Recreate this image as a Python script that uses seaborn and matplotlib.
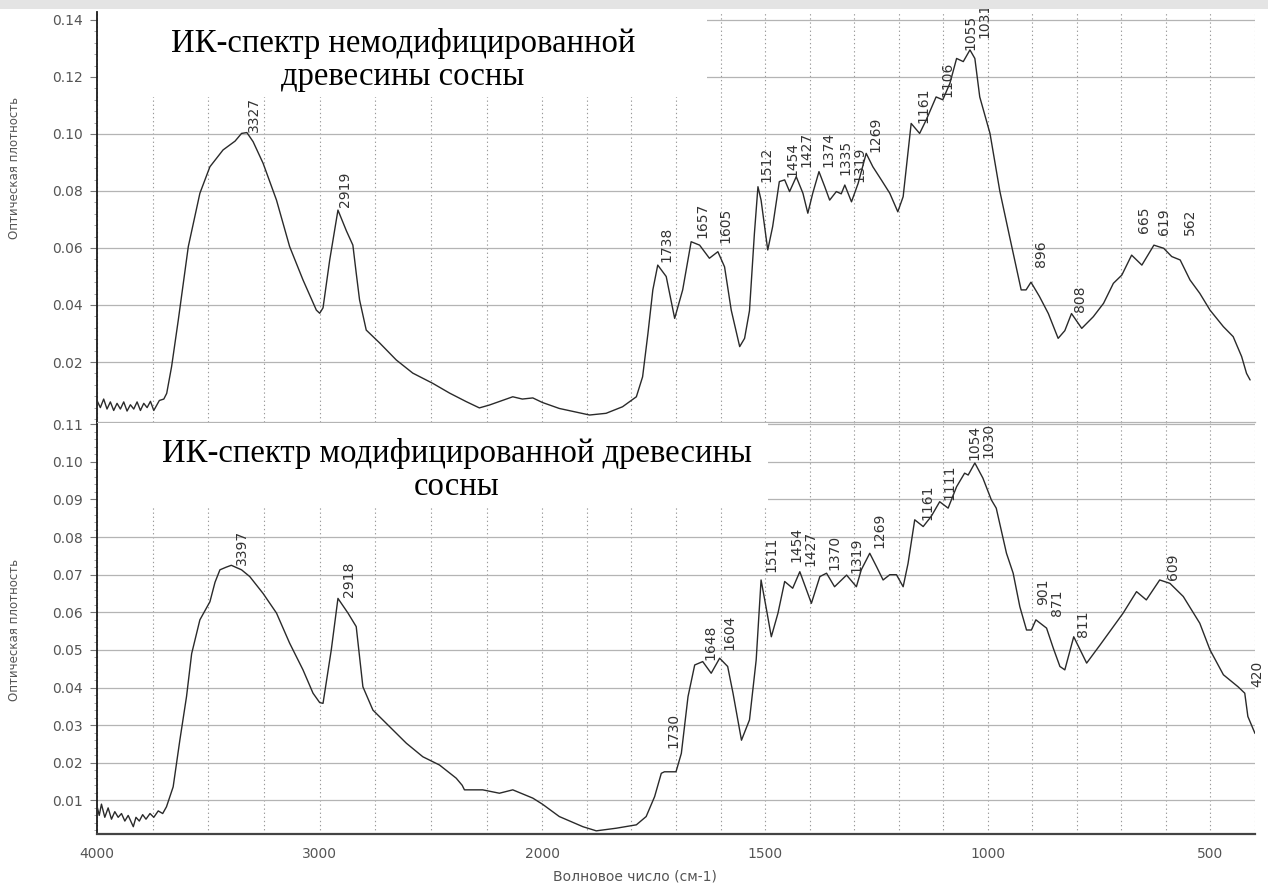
import numpy as np
import pandas as pd
import seaborn as sns
import matplotlib
matplotlib.use("Agg")
import matplotlib.pyplot as plt
from matplotlib.patches import Rectangle
from matplotlib.ticker import FixedLocator, MultipleLocator, FormatStrFormatter, NullFormatter

# ---------------- data ----------------
top_w = [4000, 3985, 3970, 3955, 3940, 3925, 3910, 3895, 3880, 3865, 3850, 3835, 3820, 3805,
         3790, 3775, 3760, 3745, 3720, 3700, 3687, 3665, 3635, 3590, 3538, 3493, 3434, 3380,
         3351, 3327, 3299, 3254, 3194, 3135, 3075, 3015, 3000, 2985, 2955, 2918, 2880, 2851,
         2836, 2821, 2791, 2731, 2656, 2582, 2492, 2417, 2342, 2283, 2238, 2180, 2133, 2090,
         2043, 2000, 1962, 1894, 1857, 1820, 1789, 1775, 1763, 1752, 1741, 1722, 1703, 1685,
         1666, 1647, 1625, 1606, 1591, 1576, 1557, 1546, 1535, 1524, 1516, 1509, 1494, 1483,
         1468, 1456, 1445, 1430, 1415, 1404, 1393, 1379, 1366, 1355, 1340, 1329, 1321, 1306,
         1291, 1273, 1258, 1239, 1220, 1202, 1190, 1172, 1153, 1138, 1116, 1101, 1085, 1070,
         1055, 1040, 1029, 1018, 995, 973, 951, 925, 914, 903, 884, 864, 842, 827, 812, 789,
         763, 740, 718, 699, 677, 654, 627, 605, 587, 568, 546, 524, 501, 471, 449, 430, 419, 411]
top_a = [0.0065, 0.0040, 0.0070, 0.0035, 0.0060, 0.0030, 0.0055, 0.0035, 0.0060, 0.0028, 0.0050,
         0.0035, 0.0060, 0.0030, 0.0055, 0.0040, 0.0062, 0.0030, 0.0065, 0.0070, 0.0090, 0.0184,
         0.0347, 0.0605, 0.0792, 0.0885, 0.0944, 0.0975, 0.1002, 0.1005, 0.0973, 0.0897, 0.0768,
         0.0605, 0.0488, 0.0382, 0.0371, 0.0390, 0.0558, 0.0733, 0.0660, 0.0610, 0.0512, 0.0418,
         0.0312, 0.0267, 0.0207, 0.0161, 0.0125, 0.0091, 0.0061, 0.0039, 0.0049, 0.0065, 0.0078,
         0.0070, 0.0074, 0.0058, 0.0037, 0.0014, 0.0020, 0.0043, 0.0078, 0.0148, 0.0300, 0.0453,
         0.0540, 0.0500, 0.0353, 0.0453, 0.0622, 0.0610, 0.0564, 0.0587, 0.0534, 0.0382, 0.0254,
         0.0283, 0.0380, 0.0650, 0.0815, 0.0768, 0.0593, 0.0675, 0.0833, 0.0839, 0.0798, 0.0850,
         0.0792, 0.0722, 0.0792, 0.0868, 0.0815, 0.0768, 0.0798, 0.0790, 0.0821, 0.0762, 0.0827,
         0.0932, 0.0885, 0.0839, 0.0792, 0.0727, 0.0780, 0.1037, 0.1002, 0.1050, 0.1130, 0.1120,
         0.1178, 0.1265, 0.1254, 0.1295, 0.1265, 0.1130, 0.1002, 0.0800, 0.0640, 0.0453, 0.0453,
         0.0480, 0.0430, 0.0370, 0.0283, 0.0310, 0.0370, 0.0318, 0.0359, 0.0406, 0.0476, 0.0505,
         0.0575, 0.0540, 0.0610, 0.0599, 0.0570, 0.0558, 0.0488, 0.0441, 0.0382, 0.0324, 0.0289,
         0.0219, 0.0160, 0.0137]

bot_w = [4000, 3990, 3980, 3965, 3950, 3935, 3920, 3905, 3890, 3875, 3860, 3845, 3837, 3825,
         3810, 3795, 3780, 3762, 3745, 3725, 3705, 3688, 3658, 3628, 3598, 3575, 3538, 3493,
         3470, 3448, 3420, 3397, 3370, 3351, 3314, 3254, 3194, 3135, 3075, 3030, 3000, 2985,
         2948, 2918, 2873, 2836, 2806, 2761, 2686, 2611, 2537, 2462, 2387, 2360, 2350, 2268,
         2193, 2133, 2043, 2000, 1962, 1909, 1879, 1834, 1789, 1767, 1748, 1733, 1726, 1700,
         1688, 1673, 1658, 1640, 1621, 1602, 1584, 1572, 1553, 1535, 1520, 1509, 1498, 1486,
         1471, 1456, 1438, 1422, 1396, 1377, 1362, 1344, 1317, 1295, 1284, 1265, 1250, 1235,
         1220, 1205, 1190, 1179, 1164, 1145, 1127, 1108, 1089, 1070, 1052, 1044, 1029, 1011,
         992, 981, 958, 943, 928, 913, 902, 892, 868, 853, 838, 827, 807, 778, 748, 718, 696,
         666, 644, 614, 591, 561, 524, 501, 471, 438, 423, 416, 400]
bot_a = [0.0085, 0.0060, 0.0090, 0.0055, 0.0080, 0.0050, 0.0070, 0.0055, 0.0065, 0.0045, 0.0060,
         0.0040, 0.0030, 0.0055, 0.0045, 0.0062, 0.0050, 0.0065, 0.0055, 0.0072, 0.0065, 0.0083,
         0.0136, 0.0260, 0.0376, 0.0490, 0.0580, 0.0628, 0.0680, 0.0713, 0.0720, 0.0725, 0.0718,
         0.0713, 0.0695, 0.0650, 0.0598, 0.0518, 0.0447, 0.0385, 0.0360, 0.0358, 0.0500, 0.0637,
         0.0598, 0.0562, 0.0402, 0.0340, 0.0296, 0.0252, 0.0216, 0.0194, 0.0159, 0.0140, 0.0128,
         0.0128, 0.0119, 0.0128, 0.0106, 0.0090, 0.0057, 0.0030, 0.0019, 0.0026, 0.0035, 0.0057,
         0.0110, 0.0172, 0.0176, 0.0176, 0.0225, 0.0376, 0.0460, 0.0469, 0.0438, 0.0478, 0.0456,
         0.0385, 0.0260, 0.0314, 0.0473, 0.0686, 0.0615, 0.0535, 0.0598, 0.0682, 0.0664, 0.0708,
         0.0624, 0.0695, 0.0704, 0.0668, 0.0699, 0.0668, 0.0713, 0.0757, 0.0722, 0.0686, 0.0700,
         0.0700, 0.0668, 0.0730, 0.0846, 0.0828, 0.0855, 0.0894, 0.0877, 0.0934, 0.0970, 0.0965,
         0.0997, 0.0957, 0.0899, 0.0877, 0.0757, 0.0704, 0.0615, 0.0553, 0.0553, 0.0580, 0.0558,
         0.0505, 0.0456, 0.0447, 0.0535, 0.0465, 0.0513, 0.0562, 0.0598, 0.0655, 0.0633, 0.0686,
         0.0677, 0.0642, 0.0571, 0.0500, 0.0434, 0.0402, 0.0385, 0.0323, 0.0278]

top_peaks = [3327, 2919, 1738, 1657, 1605, 1512, 1454, 1427, 1374, 1335, 1319, 1269,
             1161, 1106, 1055, 1031, 896, 808, 665, 619, 562]
top_peak_y = [0.1008, 0.0745, 0.0552, 0.0634, 0.0617, 0.0833, 0.0850, 0.0885, 0.0885, 0.0856,
              0.0833, 0.0938, 0.1037, 0.1130, 0.1295, 0.1336, 0.0534, 0.0377, 0.0652, 0.0646, 0.0646]
bot_peaks = [3397, 2918, 1730, 1648, 1604, 1511, 1454, 1427, 1370, 1319, 1269, 1161, 1111,
             1054, 1030, 901, 871, 811, 609, 420]
bot_peak_y = [0.0726, 0.0642, 0.0239, 0.0473, 0.0500, 0.0708, 0.0735, 0.0722, 0.0713, 0.0704,
              0.0770, 0.0846, 0.0899, 0.1005, 0.1010, 0.0620, 0.0589, 0.0535, 0.0686, 0.0402]

top_yticks = [0.02, 0.04, 0.06, 0.08, 0.10, 0.12, 0.14]
bot_yticks = [0.01, 0.02, 0.03, 0.04, 0.05, 0.06, 0.07, 0.08, 0.09, 0.10, 0.11]
x_major = [4000, 3000, 2000, 1500, 1000, 500]
x_minor = [3750, 3500, 3250, 2750, 2500, 2250, 1900, 1800, 1700, 1600, 1400, 1300, 1200,
           1100, 900, 800, 700, 600, 400]

title_top = "ИК-спектр немодифицированной\nдревесины сосны"
title_bot = "ИК-спектр модифицированной древесины\nсосны"
ylabel = "Оптическая плотность"
xlabel = "Волновое число (см-1)"

# ---------------- style ----------------
sns.set_theme(style="white")
plt.rcParams["font.family"] = ["DejaVu Sans"]

W, H = 1268, 886
fig = plt.figure(figsize=(W / 100, H / 100), dpi=100)
fig.patch.set_facecolor("white")


def rect(x0, y0, x1, y1):
    return [x0 / W, 1 - y1 / H, (x1 - x0) / W, (y1 - y0) / H]


ax1 = fig.add_axes(rect(97, 12, 1255, 422))
ax2 = fig.add_axes(rect(97, 422, 1255, 834))


def fwd(w):
    w = np.asarray(w, dtype=float)
    return np.where(w >= 2000, w, 2 * w - 2000)


def inv(u):
    u = np.asarray(u, dtype=float)
    return np.where(u >= 2000, u, (u + 2000) / 2)


top_df = pd.DataFrame({"w": top_w, "A": top_a})
bot_df = pd.DataFrame({"w": bot_w, "A": bot_a})

for ax, df, ylim, yt, minor in [
    (ax1, top_df, (-0.00105, 0.1428), top_yticks, 0.004),
    (ax2, bot_df, (0.00106, 0.1106), bot_yticks, 0.002),
]:
    ax.set_xscale("function", functions=(fwd, inv))
    sns.lineplot(data=df, x="w", y="A", ax=ax, estimator=None, sort=False,
                 color="#2a2a2a", lw=1.0, zorder=3)
    ax.set_xlim(4000, 400)
    ax.set_ylim(*ylim)
    ax.xaxis.set_major_locator(FixedLocator(x_major))
    ax.xaxis.set_minor_locator(FixedLocator(x_minor))
    ax.yaxis.set_major_locator(FixedLocator(yt))
    ax.yaxis.set_minor_locator(MultipleLocator(minor))
    ax.yaxis.set_major_formatter(FormatStrFormatter("%.2f"))
    ax.set_axisbelow(True)
    ax.grid(axis="y", which="major", color="#b4b4b4", lw=0.9, ls="-")
    ax.grid(axis="x", which="both", color="#9a9a9a", lw=0.8, ls=(0, (1.2, 2.5)))
    ax.set_xlabel("")
    ax.set_ylabel("")
    ax.set_facecolor("none")
    for s in ["top", "right"]:
        ax.spines[s].set_visible(False)
    ax.spines["left"].set_color("#1a1a1a")
    ax.spines["left"].set_linewidth(1.3)
    ax.tick_params(axis="y", which="major", left=True, length=5, width=0.8, color="#777",
                   labelsize=10, labelcolor="#555", pad=5)
    ax.tick_params(axis="y", which="minor", left=True, length=2.5, width=0.6, color="#999")
    ax.tick_params(axis="x", which="both", length=0)

ax1.spines["bottom"].set_visible(False)
ax1.tick_params(axis="x", labelbottom=False)
ax2.spines["bottom"].set_color("#444")
ax2.spines["bottom"].set_linewidth(1.6)
ax2.spines["top"].set_visible(True)
ax2.spines["top"].set_color("#b4b4b4")
ax2.spines["top"].set_linewidth(0.9)
ax2.tick_params(axis="x", labelsize=10, labelcolor="#555", pad=9)
ax2.xaxis.set_minor_formatter(NullFormatter())


# peak labels: right of the peak, pushed apart when crowded
def place_labels(ax, peaks, ys, dx_px, min_gap):
    pts = ax.transData.transform(np.column_stack([peaks, ys]))
    xs = pts[:, 0] + dx_px
    order = np.argsort(xs)
    for k in range(1, len(order)):
        i, j = order[k], order[k - 1]
        if xs[i] - xs[j] < min_gap:
            xs[i] = xs[j] + min_gap
    data = ax.transData.inverted().transform(np.column_stack([xs, pts[:, 1]]))
    for p, (x, y) in zip(peaks, data):
        ax.text(x, y, str(p), rotation=90, ha="center", va="bottom", fontsize=10,
                color="#333", clip_on=False, zorder=5)


place_labels(ax1, top_peaks, top_peak_y, 7, 14)
place_labels(ax2, bot_peaks, bot_peak_y, 11, 14)

# white boxes under the titles
fig.add_artist(Rectangle((98 / W, 1 - 97 / H), (707 - 98) / W, (97 - 12) / H,
                         transform=fig.transFigure, facecolor="white", edgecolor="none", zorder=2.5))
fig.add_artist(Rectangle((98 / W, 1 - 508 / H), (768 - 98) / W, (508 - 423) / H,
                         transform=fig.transFigure, facecolor="white", edgecolor="none", zorder=2.5))
fig.text(403 / W, 1 - 60 / H, title_top, ha="center", va="center", fontsize=23.5,
         family="Liberation Serif", color="black", linespacing=1.12, zorder=6)
fig.text(457 / W, 1 - 470 / H, title_bot, ha="center", va="center", fontsize=23.5,
         family="Liberation Serif", color="black", linespacing=1.12, zorder=6)

# top grey band of the scan
fig.add_artist(Rectangle((0, 1 - 9 / H), 1, 9 / H, transform=fig.transFigure,
                         facecolor="#e4e4e4", edgecolor="none", zorder=7))

# axis labels
fig.text(15 / W, 1 - 168 / H, ylabel, rotation=90, ha="center", va="center",
         fontsize=8.5, color="#555")
fig.text(15 / W, 1 - 630 / H, ylabel, rotation=90, ha="center", va="center",
         fontsize=8.5, color="#555")
fig.text(635 / W, 1 - 876 / H, xlabel, ha="center", va="center", fontsize=10, color="#555")

fig.savefig("out.png", dpi=100)
